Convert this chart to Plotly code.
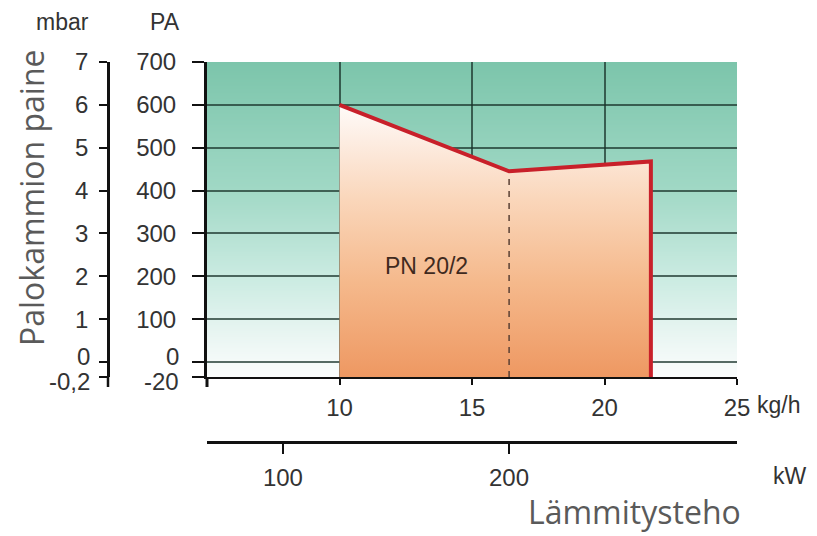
import base64, struct, zlib
import plotly.graph_objects as go

# ---------------- data ----------------
KGH_POINTS = [10, 16.4, 21.75]          # kg/h at curve vertices
PA_POINTS = [600, 445, 468]             # Pa at curve vertices
DASH_KW_KGH = 16.4                      # dashed marker (200 kW)
Y_BOTTOM = -35                          # display position of the "-20" bottom line (compressed scale)

PA_TICKS = [Y_BOTTOM, 0, 100, 200, 300, 400, 500, 600, 700]
PA_LABELS = ["", "", "100", "200", "300", "400", "500", "600", "700"]
MBAR_TICKS = [Y_BOTTOM / 100, 0, 1, 2, 3, 4, 5, 6, 7]
MBAR_LABELS = ["", "", "1", "2", "3", "4", "5", "6", "7"]
LOW_PA_LABELS = ["0", "-20"]
LOW_MBAR_LABELS = ["0", "-0,2"]
KGH_TICKS = [10, 15, 20, 25]
KW_TICKS = [100, 200]
KGH_RANGE = [5, 25]
KW_RANGE = [66.4, 300.9]
PA_RANGE = [Y_BOTTOM, 700]
LABEL_TEXT = "PN 20/2"

# ---------------- background gradient image ----------------
def gradient_png(stops, h=320):
    rows = []
    for i in range(h):
        f = i / (h - 1)
        for j in range(len(stops) - 1):
            f0, c0 = stops[j]
            f1, c1 = stops[j + 1]
            if f0 <= f <= f1:
                t = (f - f0) / (f1 - f0) if f1 > f0 else 0
                rows.append(tuple(int(round(c0[k] + (c1[k] - c0[k]) * t)) for k in range(3)))
                break
    raw = b"".join(b"\x00" + bytes(r) for r in rows)

    def chunk(tag, data):
        c = struct.pack(">I", len(data)) + tag + data
        return c + struct.pack(">I", zlib.crc32(tag + data) & 0xFFFFFFFF)

    png = b"\x89PNG\r\n\x1a\n"
    png += chunk(b"IHDR", struct.pack(">IIBBBBB", 1, h, 8, 2, 0, 0, 0))
    png += chunk(b"IDAT", zlib.compress(raw, 9))
    png += chunk(b"IEND", b"")
    return "data:image/png;base64," + base64.b64encode(png).decode()

bg_src = gradient_png([
    (0.0, (124, 197, 171)),
    (0.40, (160, 216, 197)),
    (0.70, (205, 236, 227)),
    (0.90, (238, 247, 245)),
    (1.0, (251, 253, 253)),
])

# ---------------- layout geometry (page body has an 8px margin) ----------------
OFF = 8
W, H = 817 - OFF, 536 - OFF
LEFT, RIGHT, TOP, KW_LINE, BOTTOM = 207, 737, 62, 442, 377   # reference pixel positions
MBAR_LINE = 108
ML, MR, MT, MB = 52, W - (RIGHT - OFF), TOP - OFF, H - (KW_LINE - OFF)
PW, PH = W - ML - MR, H - MT - MB
XD0 = (LEFT - OFF - ML) / PW
YD0 = (KW_LINE - BOTTOM) / PH
MBAR_POS = (MBAR_LINE - OFF - ML) / PW


def px(xp):
    return (xp - OFF - ML) / PW


def py(yp):
    return (H - MB - (yp - OFF)) / PH


TICK_FONT = dict(family="Liberation Sans, Arial, sans-serif", size=24, color="#333333")
GRID = "rgba(25,50,42,0.72)"

fig = go.Figure()

poly_x = [KGH_POINTS[0]] + KGH_POINTS + [KGH_POINTS[-1]]
poly_y = [Y_BOTTOM] + PA_POINTS + [Y_BOTTOM]
fig.add_trace(go.Scatter(
    x=poly_x, y=poly_y, mode="lines", fill="toself",
    line=dict(width=0),
    fillgradient=dict(type="vertical", colorscale=[
        [0.0, "rgb(238,152,98)"],
        [0.35, "rgb(245,185,140)"],
        [0.65, "rgb(250,214,186)"],
        [0.88, "rgb(253,238,228)"],
        [1.0, "rgb(255,251,249)"],
    ]),
    hoverinfo="skip", showlegend=False,
))

# dashed vertical line at 200 kW
fig.add_trace(go.Scatter(
    x=[DASH_KW_KGH, DASH_KW_KGH],
    y=[Y_BOTTOM, PA_POINTS[1]],
    mode="lines", line=dict(color="#5a4034", width=1.5, dash="6px,6px"),
    hoverinfo="skip", showlegend=False,
))

# red outline (top and right side)
fig.add_trace(go.Scatter(
    x=KGH_POINTS + [KGH_POINTS[-1]],
    y=PA_POINTS + [Y_BOTTOM],
    mode="lines", line=dict(color="#c8202a", width=4),
    hoverinfo="skip", showlegend=False,
))

# empty traces to activate secondary axes
fig.add_trace(go.Scatter(x=[], y=[], xaxis="x2", yaxis="y", showlegend=False))
fig.add_trace(go.Scatter(x=[], y=[], xaxis="x", yaxis="y2", showlegend=False))

fig.update_layout(
    width=W, height=H,
    margin=dict(l=ML, r=MR, t=MT, b=MB),
    paper_bgcolor="white", plot_bgcolor="rgba(0,0,0,0)",
    showlegend=False,
    xaxis=dict(
        domain=[XD0, 1], range=KGH_RANGE, tickvals=KGH_TICKS,
        showline=True, linecolor="#111111", linewidth=2,
        ticks="outside", ticklen=6, tickwidth=1.5, tickcolor="#111111",
        showgrid=True, gridcolor=GRID, gridwidth=1.6,
        zeroline=False, tickfont=TICK_FONT, ticklabelstandoff=2,
    ),
    xaxis2=dict(
        domain=[XD0 - 0.003, 1], range=KW_RANGE, tickvals=KW_TICKS,
        overlaying="x", anchor="free", position=0, side="bottom",
        showline=True, linecolor="#111111", linewidth=3,
        ticks="outside", ticklen=10, tickwidth=2, tickcolor="#111111",
        showgrid=False, zeroline=False, tickfont=TICK_FONT, ticklabelstandoff=3,
    ),
    yaxis=dict(
        domain=[YD0, 1], range=PA_RANGE, tickvals=PA_TICKS, ticktext=PA_LABELS,
        showline=True, linecolor="#111111", linewidth=3,
        ticks="outside", ticklen=12, tickwidth=1.5, tickcolor="#111111",
        showgrid=True, gridcolor=GRID, gridwidth=2,
        zeroline=False, tickfont=TICK_FONT, ticklabelstandoff=11,
    ),
    yaxis2=dict(
        domain=[YD0, 1], range=[v / 100 for v in PA_RANGE],
        tickvals=MBAR_TICKS, ticktext=MBAR_LABELS,
        overlaying="y", anchor="free", position=MBAR_POS, side="left",
        showline=True, linecolor="#111111", linewidth=2.5,
        ticks="outside", ticklen=8, tickwidth=2, tickcolor="#111111",
        showgrid=False, zeroline=False, tickfont=TICK_FONT, ticklabelstandoff=6,
    ),
    images=[dict(
        source=bg_src, xref="x", yref="y", x=KGH_RANGE[0], y=PA_RANGE[1],
        sizex=KGH_RANGE[1] - KGH_RANGE[0], sizey=PA_RANGE[1] - PA_RANGE[0],
        sizing="stretch", layer="below", xanchor="left", yanchor="top",
    )],
)

# small extensions of the left vertical axis lines below the plot
for xpos, wdt in [(XD0, 3), (MBAR_POS, 2.5)]:
    fig.add_shape(type="line", xref="paper", yref="paper",
                  x0=xpos, x1=xpos, y0=YD0, y1=YD0 - 10 / PH,
                  line=dict(color="#111111", width=wdt))

UNIT_FONT = dict(family="Liberation Sans, Arial, sans-serif", size=23, color="#333333")
TITLE_FONT = dict(family="Open Sans, Noto Sans, sans-serif", size=32, color="#5a5a5a")
YTITLE_FONT = dict(family="Open Sans, Noto Sans, sans-serif", size=32, color="#5a5a5a")

ann = [
    dict(text="mbar", x=px(62), y=py(22), font=UNIT_FONT),
    dict(text="PA", x=px(165), y=py(22), font=UNIT_FONT),
    dict(text="kg/h", x=px(779), y=py(405), font=UNIT_FONT),
    dict(text="kW", x=px(790), y=py(476), font=UNIT_FONT),
    dict(text="Lämmitysteho", x=px(634), y=py(512), font=TITLE_FONT),
    dict(text="Palokammion paine", x=px(31), y=py(198), font=YTITLE_FONT, textangle=-90),
]
for a in ann:
    fig.add_annotation(xref="paper", yref="paper", showarrow=False, borderpad=0,
                       xanchor="center", yanchor="middle", **a)

# low tick labels, spread apart as in the reference
for txt, ycen in zip(LOW_PA_LABELS, [356, 381]):
    fig.add_annotation(text=txt, xref="paper", yref="paper", x=px(181), y=py(ycen),
                       xanchor="right", yanchor="middle", showarrow=False, font=TICK_FONT)
for txt, ycen in zip(LOW_MBAR_LABELS, [356, 381]):
    fig.add_annotation(text=txt, xref="paper", yref="paper", x=px(92), y=py(ycen),
                       xanchor="right", yanchor="middle", showarrow=False, font=TICK_FONT)

fig.add_annotation(text=LABEL_TEXT, x=13.3, y=225, xref="x", yref="y",
                   showarrow=False, font=dict(family="Liberation Sans, Arial, sans-serif",
                                              size=23, color="#3f2a1e"))

fig.write_html("out.html")
